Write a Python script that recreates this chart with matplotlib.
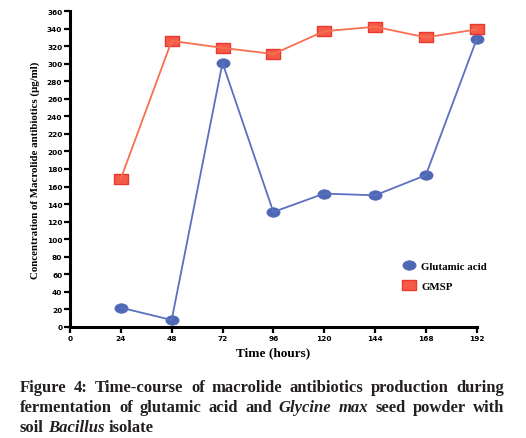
import matplotlib
matplotlib.use("Agg")
import matplotlib.pyplot as plt
from matplotlib.path import Path
import numpy as np

hours = [24, 48, 72, 96, 120, 144, 168, 192]
glutamic = [22, 8, 301, 131, 152, 150, 173, 328]
gmsp = [169, 326, 318, 311, 337, 342, 330, 339]
xticks = [0, 24, 48, 72, 96, 120, 144, 168, 192]
yticks = list(range(0, 361, 20))

fig = plt.figure(figsize=(5.26, 4.39), dpi=100)
ax = fig.add_axes([70/526, 1-328/439, (476.7-70)/526, (328-12)/439])

ell = Path.unit_circle()
ell = Path(ell.vertices * np.array([1.0, 0.72]), ell.codes)
rect = Path([(-1, -0.72), (1, -0.72), (1, 0.72), (-1, 0.72), (-1, -0.72)],
            [Path.MOVETO, Path.LINETO, Path.LINETO, Path.LINETO, Path.CLOSEPOLY])

blue_f = "#4f68b5"
blue_l = "#5b70c0"
red_f = "#f65a48"
red_e = "#e8392c"
red_l = "#f7704f"

ax.plot(hours, glutamic, color=blue_l, lw=1.3, zorder=3)
ax.plot(hours, glutamic, ls="none", marker=ell, ms=9.5, mfc=blue_f, mec=blue_f,
        mew=0.5, zorder=2, label="Glutamic acid")
ax.plot(hours, gmsp, color=red_l, lw=1.3, zorder=3)
ax.plot(hours, gmsp, ls="none", marker=rect, ms=9.5, mfc=red_f, mec=red_e,
        mew=1.0, zorder=2, label="GMSP")

ax.set_xlim(0, 192)
ax.set_ylim(0, 360)
ax.set_xticks(xticks)
ax.set_yticks(yticks)
for s in ["top", "right"]:
    ax.spines[s].set_visible(False)
for s in ["left", "bottom"]:
    ax.spines[s].set_linewidth(2.2)
ax.tick_params(axis="both", direction="out", length=4, width=1.6, pad=1.5,
               labelsize=5.3)
for lab in ax.get_xticklabels() + ax.get_yticklabels():
    lab.set_fontfamily("DejaVu Sans")
    lab.set_fontweight("bold")
for l in ax.lines:
    l.set_clip_on(False)

ax.set_xlabel("Time (hours)", fontfamily="Liberation Serif", fontweight="bold",
              fontsize=9.5, labelpad=4)
ax.set_ylabel("Concentration of Macrolide antibiotics (\u03bcg/ml)",
              fontfamily="Liberation Serif", fontweight="bold", fontsize=7.8,
              labelpad=5)

leg = ax.legend(loc="upper left", bbox_to_anchor=(0.81, 0.222), frameon=False,
                prop={"family": "Liberation Serif", "weight": "bold", "size": 7.8},
                handlelength=1.0, handletextpad=0.6, labelspacing=1.0,
                borderaxespad=0)

# Caption with mixed styles, justified
fig.canvas.draw()
r = fig.canvas.get_renderer()
FS = 12.0
lines = [
    ([("Figure", "normal"), ("4:", "normal"), ("Time-course", "normal"), ("of", "normal"),
      ("macrolide", "normal"), ("antibiotics", "normal"), ("production", "normal"),
      ("during", "normal")], True),
    ([("fermentation", "normal"), ("of", "normal"), ("glutamic", "normal"), ("acid", "normal"),
      ("and", "normal"), ("Glycine", "italic"), ("max", "italic"), ("seed", "normal"),
      ("powder", "normal"), ("with", "normal")], True),
    ([("soil", "normal"), ("Bacillus", "italic"), ("isolate", "normal")], False),
]
x0, x1 = 20, 504
ys = [392, 412, 432]
W = fig.bbox.width
H = fig.bbox.height
for (words, just), yb in zip(lines, ys):
    texts = []
    widths = []
    for w, st in words:
        t = fig.text(0, 1 - yb / H, w, fontfamily="Liberation Serif", fontweight="bold",
                     fontstyle=st, fontsize=FS, color="#231f20", va="baseline", ha="left")
        bb = t.get_window_extent(r)
        texts.append(t)
        widths.append(bb.width)
    if just:
        gap = (x1 - x0 - sum(widths)) / (len(words) - 1)
    else:
        gap = 4.0
    x = x0
    for t, wd in zip(texts, widths):
        t.set_x(x / W)
        x += wd + gap

fig.savefig("out.png", dpi=100)
